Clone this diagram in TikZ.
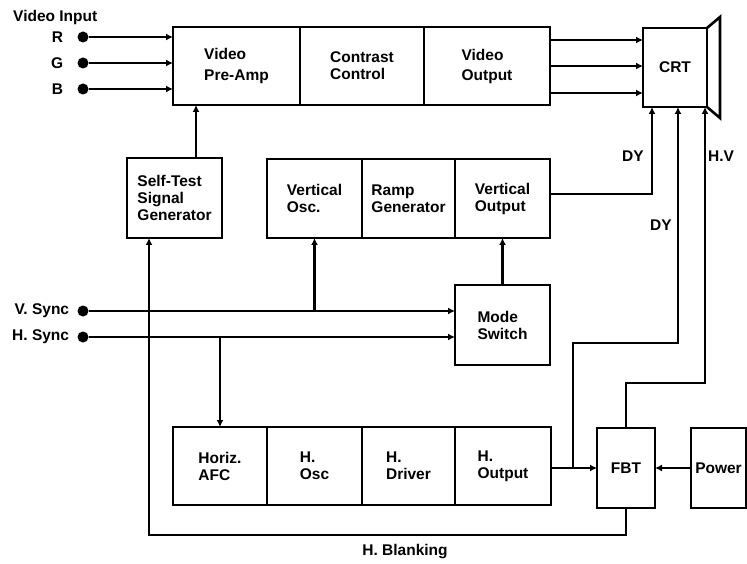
\documentclass[tikz,border=0pt]{standalone}
\usepackage{fontspec}
\setmainfont{Liberation Sans}
\usetikzlibrary{arrows.meta,positioning}

\tikzset{
  blk/.style={draw, line width=2.6pt, inner sep=0pt, outer sep=0pt, align=left,
    font=\bfseries\fontsize{15.5}{17}\selectfont},
  conn/.style={line width=2.1pt},
  arr/.style={conn, -{Latex[length=7pt,width=7pt]}},
  dot/.style={circle, fill, inner sep=0pt, minimum size=11pt},
  lbl/.style={font=\bfseries\fontsize{15.5}{17}\selectfont, inner sep=0pt}
}

\begin{document}
\begin{tikzpicture}[x=1pt,y=-1pt]
\useasboundingbox (0,0) rectangle (747,564);
% video path
\node[blk, minimum width=127, minimum height=78] (pre) at (236.5,66) {Video\\[4pt]Pre-Amp};
\node[blk, minimum width=124, minimum height=78] (con) at (362,66) {Contrast\\Control};
\node[blk, minimum width=126, minimum height=78] (vout) at (487,66) {Video\\[3pt]Output};
\node[blk, minimum width=64, minimum height=79] (crt) at (675,67.5) {CRT};
\draw[line width=2.6pt] (crt.north east) -- ++(13,-11) -- ++(0,101) -- (crt.south east);
% video inputs
\node[lbl, anchor=west] (vin) at (13,17) {Video Input};
\node[dot] (r) at (83,37) {};
\node[dot] (g) at (83,63) {};
\node[dot] (b) at (83,89) {};
\node[lbl, left=14pt of r] (rl) {R};
\node[lbl, left=14pt of g] (gl) {G};
\node[lbl, left=14pt of b] (bl) {B};
\foreach \n in {r,g,b}
  \draw[arr] (\n) -- (\n -| pre.west);
\coordinate (o1) at (600,40);
\coordinate (o2) at (600,66);
\coordinate (o3) at (600,93);
\foreach \o in {o1,o2,o3}
  \draw[arr] (vout.east |- \o) -- (crt.west |- \o);
% self test
\node[blk, minimum width=95, minimum height=80] (self) at (174.5,198) {Self-Test\\Signal\\Generator};
\draw[arr] ([xshift=21.5pt]self.north) -- ([xshift=21.5pt]self.north |- pre.south);
% vertical path
\node[blk, minimum width=95, minimum height=79] (vosc) at (314.5,198.5) {Vertical\\Osc.};
\node[blk, minimum width=93, minimum height=79] (ramp) at (408.5,198.5) {Ramp\\Generator};
\node[blk, minimum width=95, minimum height=79] (vert) at (502.5,198.5) {Vertical\\Output};
\node[blk, minimum width=95, minimum height=80] (mode) at (502.5,325) {Mode\\Switch};
\draw[arr] ([yshift=4.5pt]vert.east) -| ([xshift=9pt]crt.south west);
\node[lbl] (dy1) at (633,156) {DY};
\draw[arr] (mode.north) -- (vert.south);
% sync inputs
\node[dot] (vs) at (83,311) {};
\node[dot] (hs) at (83,337) {};
\node[lbl, left=8pt of vs] (vsl) {V. Sync};
\node[lbl, left=8pt of hs] (hsl) {H. Sync};
\draw[arr] (vs) -- (vs -| mode.west);
\draw[arr] (vosc.south |- vs) -- (vosc.south);
\draw[arr] (hs) -- (hs -| mode.west);
% horizontal path
\node[blk, minimum width=94, minimum height=78] (afc) at (220,466) {Horiz.\\AFC};
\node[blk, minimum width=95, minimum height=78] (hosc) at (314.5,466) {H.\\Osc};
\node[blk, minimum width=93, minimum height=78] (hdrv) at (408.5,466) {H.\\Driver};
\node[blk, minimum width=96, minimum height=78] (hout) at (503,466) {H.\\Output};
\draw[arr] (afc.north |- hs) -- (afc.north);
\node[blk, minimum width=58, minimum height=80] (fbt) at (626,468) {FBT};
\node[blk, minimum width=55, minimum height=80] (pow) at (718.5,468) {Power};
\draw[arr] (hout.east |- fbt.west) -- (fbt.west);
\draw[arr] (pow.west) -- (fbt.east);
\coordinate (hj) at (573,468);
\coordinate (dyb) at (678,343);
\draw[arr] (hj) |- (dyb) -- (dyb |- crt.south);
\node[lbl] (dy2) at (661,225) {DY};
\coordinate (hvb) at (705,383);
\draw[arr] (fbt.north) |- (hvb) -- (hvb |- crt.south);
\node[lbl] (hv) at (721,156) {H.V};
% blanking
\coordinate (hbl) at (149,535);
\draw[arr] (fbt.south) |- (hbl) -- (hbl |- self.south);
\node[lbl] (hbk) at (405,552) {H. Blanking};
\end{tikzpicture}
\end{document}
